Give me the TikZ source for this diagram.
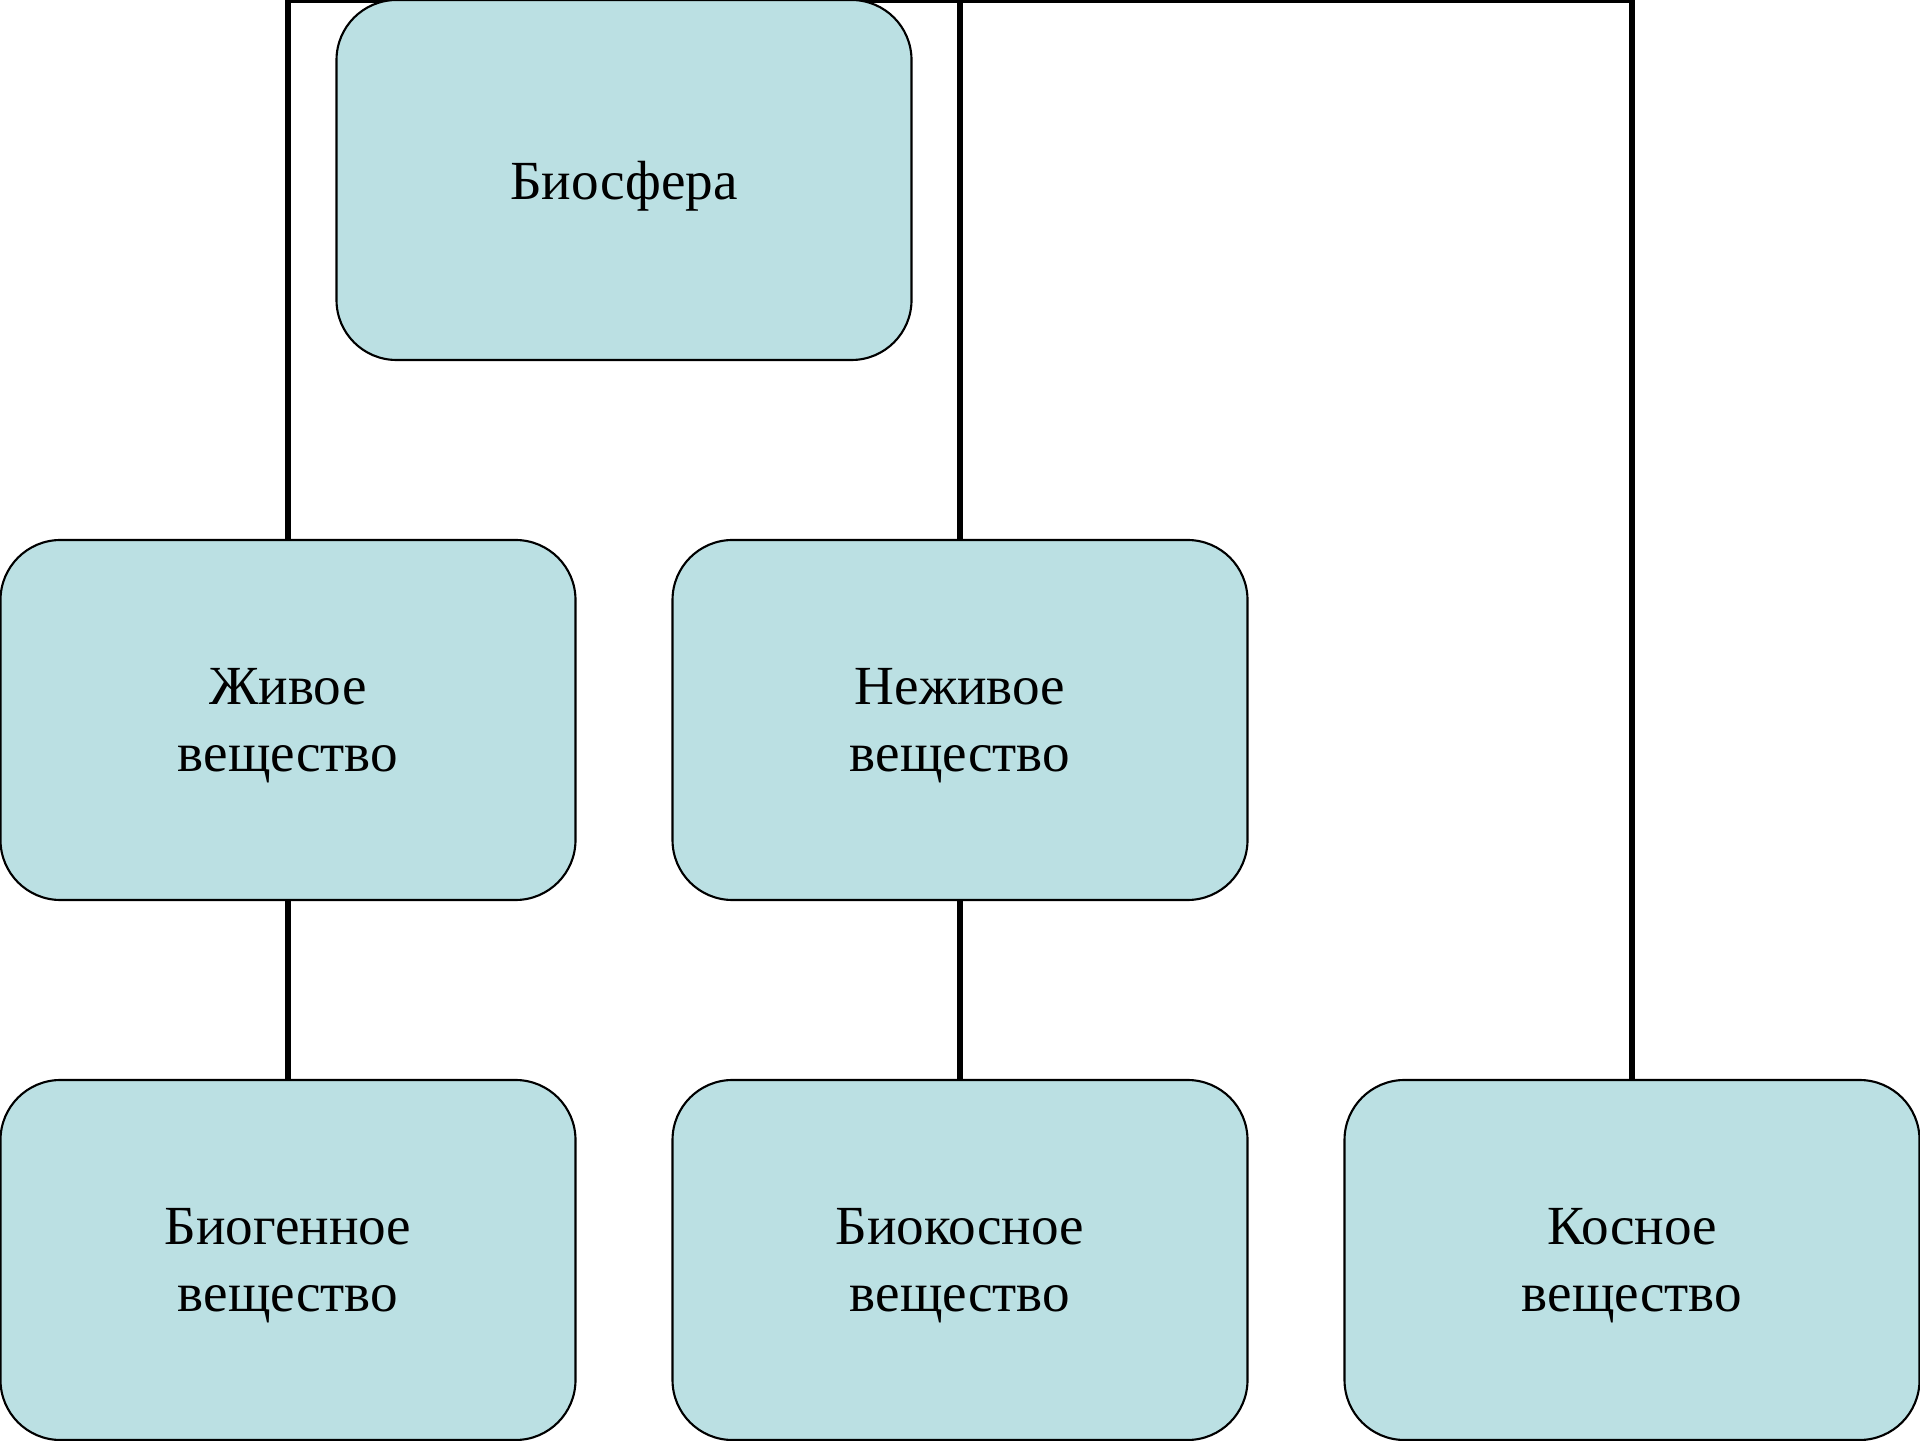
\documentclass[tikz,border=0pt]{standalone}
\usepackage{fontspec}
\setmainfont{Liberation Serif}
\usetikzlibrary{backgrounds}
\definecolor{boxblue}{RGB}{187,224,227}
\tikzset{
  box/.style={draw, line width=0.6pt, fill=boxblue, rounded corners=0.6cm,
    minimum width=5.75cm, minimum height=3.6cm, align=center, text depth=0pt,
    font=\fontsize{15.7}{19}\selectfont},
  link/.style={line width=1.6pt, line join=miter}
}
\begin{document}
\begin{tikzpicture}
\useasboundingbox (0,0) rectangle (19.2,14.4);
\def\dx{2.88}
\def\dy{1.8}

\node[box] (bio)    at (\dx + 3.36, \dy + 10.8) {Биосфера};
\node[box] (zhiv)   at (\dx, \dy + 5.4)         {Живое\\вещество};
\node[box] (nezhiv) at (\dx + 6.72, \dy + 5.4)  {Неживое\\вещество};
\node[box] (biogen) at (\dx, \dy)               {Биогенное\\вещество};
\node[box] (biokos) at (\dx + 6.72, \dy)        {Биокосное\\вещество};
\node[box] (kos)    at (\dx + 13.44, \dy)       {Косное\\вещество};
\coordinate (tl) at (0, 14.395);

\begin{scope}[on background layer]
\draw[link] (zhiv.north) -- (zhiv.north |- tl) -| (kos.north);
\draw[link] (nezhiv.north) -- (nezhiv.north |- tl);
\draw[link] (zhiv) -- (biogen);
\draw[link] (nezhiv) -- (biokos);
\end{scope}
\end{tikzpicture}
\end{document}
